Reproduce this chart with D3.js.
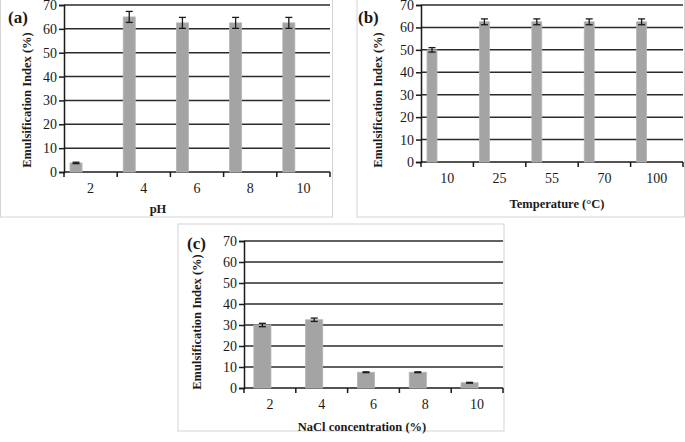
<!DOCTYPE html>
<html>
<head>
<meta charset="utf-8">
<script src="https://cdn.jsdelivr.net/npm/d3@7"></script>
<style>
  body { margin: 0; background: #fff; }
  text { font-family: "Liberation Serif", "DejaVu Serif", serif; fill: #1a1a1a; }
  .title { font-weight: bold; font-size: 12.5px; }
  .tick { font-size: 14px; }
  .tag { font-weight: bold; font-size: 17px; }
</style>
</head>
<body>
<div id="chart"></div>
<script>
var yTicks = [0, 10, 20, 30, 40, 50, 60, 70];

var phLabels = ["2", "4", "6", "8", "10"];
var phValues = [3.8, 65, 62.5, 62.5, 62.5];
var phErrors = [0.3, 2.3, 2.3, 2.3, 2.3];

var tempLabels = ["10", "25", "55", "70", "100"];
var tempValues = [50, 62.5, 62.5, 62.5, 62.5];
var tempErrors = [1, 1.3, 1.3, 1.3, 1.3];

var naclLabels = ["2", "4", "6", "8", "10"];
var naclValues = [30, 32.5, 7.5, 7.5, 2.5];
var naclErrors = [0.8, 0.8, 0.2, 0.2, 0.2];

var svg = d3.select("#chart").append("svg")
  .attr("width", 685)
  .attr("height", 442);

var panels = [
  { tag: "(a)", labels: phLabels, values: phValues, errors: phErrors, xTitle: "pH",
    frame: [0.5, -1, 332, 218], left: 64, right: 330, top: 5, bottom: 172,
    barOff: 0.113, barW: 0.226, tagX: 8, tagY: 23, yTitleX: 27, yTitleY: 100, xTitleX: 158, xTitleDy: 37 },
  { tag: "(b)", labels: tempLabels, values: tempValues, errors: tempErrors, xTitle: "Temperature (°C)",
    frame: [357, -1, 327.5, 218], left: 421, right: 683, top: 5, bottom: 162,
    barOff: 0.115, barW: 0.19, tagX: 358, tagY: 23, yTitleX: 378, yTitleY: 100, xTitleX: 557, xTitleDy: 42 },
  { tag: "(c)", labels: naclLabels, values: naclValues, errors: naclErrors, xTitle: "NaCl concentration (%)",
    frame: [178, 224, 326, 207], left: 244, right: 503, top: 241, bottom: 388,
    barOff: 0.19, barW: 0.33, tagX: 187, tagY: 249, yTitleX: 197, yTitleY: 322, xTitleX: 362, xTitleDy: 39 }
];

panels.forEach(drawPanel);

function drawPanel(p) {
  var g = svg.append("g");

  g.append("rect")
    .attr("x", p.frame[0]).attr("y", p.frame[1])
    .attr("width", p.frame[2]).attr("height", p.frame[3])
    .attr("fill", "none")
    .attr("stroke", "#d4d4d4");

  var x = d3.scaleBand().domain(p.labels).range([p.left, p.right]);
  var y = d3.scaleLinear().domain([0, 70]).range([p.bottom, p.top]);
  var bw = x.bandwidth();

  // gridlines
  g.selectAll("line.grid")
    .data(yTicks.slice(1))
    .enter().append("line")
    .attr("class", "grid")
    .attr("x1", p.left).attr("x2", p.right)
    .attr("y1", function(d) { return y(d); })
    .attr("y2", function(d) { return y(d); })
    .attr("stroke", "#2b2b2b")
    .attr("stroke-width", 1.5);

  // y axis
  var yAxis = g.append("g")
    .attr("transform", "translate(" + p.left + ",0)")
    .call(d3.axisLeft(y).tickValues(yTicks).tickSize(5).tickPadding(2));
  yAxis.select(".domain").attr("stroke", "#1a1a1a").attr("stroke-width", 1.5);
  yAxis.selectAll(".tick line").attr("stroke", "#1a1a1a").attr("stroke-width", 1.5);
  yAxis.selectAll("text").attr("class", "tick").attr("font-family", null).attr("font-size", null);

  // x axis with ticks at band edges
  var xAxis = g.append("g")
    .attr("transform", "translate(0," + p.bottom + ")");
  xAxis.append("line")
    .attr("x1", p.left).attr("x2", p.right)
    .attr("stroke", "#1a1a1a").attr("stroke-width", 1.5);
  xAxis.selectAll("line.edge")
    .data(p.labels.concat(["end"]))
    .enter().append("line")
    .attr("class", "edge")
    .attr("x1", function(d, i) { return p.left + i * bw; })
    .attr("x2", function(d, i) { return p.left + i * bw; })
    .attr("y1", 0).attr("y2", 5)
    .attr("stroke", "#1a1a1a").attr("stroke-width", 1.5);
  xAxis.selectAll("text")
    .data(p.labels)
    .enter().append("text")
    .attr("class", "tick")
    .attr("x", function(d) { return x(d) + bw / 2; })
    .attr("y", 16)
    .attr("dy", "0.35em")
    .attr("text-anchor", "middle")
    .text(function(d) { return d; });

  // bars
  var data = p.labels.map(function(l, i) { return { label: l, v: p.values[i], e: p.errors[i] }; });
  g.selectAll("rect.bar")
    .data(data)
    .enter().append("rect")
    .attr("class", "bar")
    .attr("x", function(d) { return x(d.label) + bw * p.barOff; })
    .attr("width", bw * p.barW)
    .attr("y", function(d) { return y(d.v); })
    .attr("height", function(d) { return p.bottom - y(d.v); })
    .attr("fill", "#a4a4a4")
    .attr("stroke", "#b4b4b4")
    .attr("stroke-width", 0.8);

  // error bars
  var eb = g.selectAll("g.err")
    .data(data)
    .enter().append("g")
    .attr("class", "err")
    .attr("transform", function(d) { return "translate(" + (x(d.label) + bw * (p.barOff + p.barW / 2)) + ",0)"; });
  eb.append("line")
    .attr("y1", function(d) { return y(d.v - d.e); })
    .attr("y2", function(d) { return y(d.v + d.e); })
    .attr("stroke", "#1a1a1a").attr("stroke-width", 1.3);
  eb.selectAll("line.cap")
    .data(function(d) { return [d.v - d.e, d.v + d.e]; })
    .enter().append("line")
    .attr("class", "cap")
    .attr("x1", -3.5).attr("x2", 3.5)
    .attr("y1", function(d) { return y(d); })
    .attr("y2", function(d) { return y(d); })
    .attr("stroke", "#1a1a1a").attr("stroke-width", 1.3);

  // titles
  g.append("text")
    .attr("class", "title")
    .attr("transform", "translate(" + p.yTitleX + "," + p.yTitleY + ") rotate(-90)")
    .attr("text-anchor", "middle")
    .attr("dy", "0.35em")
    .text("Emulsification Index (%)");

  g.append("text")
    .attr("class", "title")
    .attr("x", p.xTitleX)
    .attr("y", p.bottom + p.xTitleDy)
    .attr("dy", "0.35em")
    .attr("text-anchor", "middle")
    .text(p.xTitle);

  g.append("text")
    .attr("class", "tag")
    .attr("x", p.tagX)
    .attr("y", p.tagY)
    .text(p.tag);
}
</script>
</body>
</html>
